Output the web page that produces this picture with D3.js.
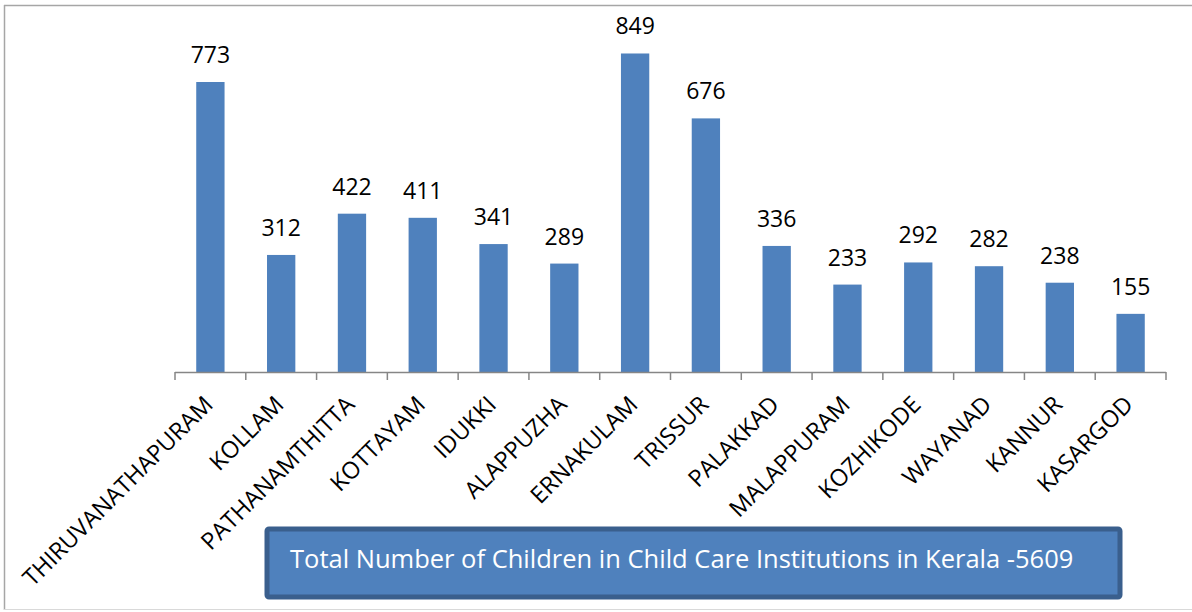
<!DOCTYPE html>
<html>
<head>
<meta charset="utf-8">
<script src="https://cdn.jsdelivr.net/npm/d3@7"></script>
<style>
  html, body { margin: 0; padding: 0; background: #fff; }
  svg { display: block; font-family: "Open Sans", "Noto Sans", sans-serif; }
</style>
</head>
<body>
<svg id="chart" width="1192" height="612"></svg>
<script>
const districts = ["THIRUVANATHAPURAM","KOLLAM","PATHANAMTHITTA","KOTTAYAM","IDUKKI","ALAPPUZHA","ERNAKULAM","TRISSUR","PALAKKAD","MALAPPURAM","KOZHIKODE","WAYANAD","KANNUR","KASARGOD"];
const children = [773,312,422,411,341,289,849,676,336,233,292,282,238,155];
const boxTitle = "Total Number of Children in Child Care Institutions in Kerala -5609";

const svg = d3.select("#chart");
const W = 1192, H = 612;

// outer frame
svg.append("line").attr("x1",4.5).attr("y1",5).attr("x2",4.5).attr("y2",610).attr("stroke","#a6a6a6").attr("stroke-width",1.5);
svg.append("line").attr("x1",4).attr("y1",5.5).attr("x2",W).attr("y2",5.5).attr("stroke","#a6a6a6").attr("stroke-width",1.5);
svg.append("line").attr("x1",4).attr("y1",609.5).attr("x2",W).attr("y2",609.5).attr("stroke","#d9d9d9").attr("stroke-width",1);

const x0 = 175, x1 = 1166, yBase = 372;
const x = d3.scaleBand().domain(districts).range([x0, x1]).paddingInner(0.6).paddingOuter(0.3);
const y = d3.scaleLinear().domain([0, 773]).range([yBase, 82]);

// bars
svg.append("g").selectAll("rect").data(districts).join("rect")
  .attr("x", d => x(d))
  .attr("y", (d,i) => y(children[i]))
  .attr("width", x.bandwidth())
  .attr("height", (d,i) => yBase - y(children[i]))
  .attr("fill", "#4f81bd");

// value labels
svg.append("g").selectAll("text").data(districts).join("text")
  .attr("x", d => x(d) + x.bandwidth()/2)
  .attr("y", (d,i) => y(children[i]) - 19)
  .attr("text-anchor", "middle")
  .attr("font-size", 23)
  .attr("fill", "#000")
  .text((d,i) => children[i]);

// axis
const tickPos = d3.range(districts.length + 1).map(i => x0 + i * (x1 - x0) / districts.length);
const axis = svg.append("g");
axis.append("line").attr("x1", x0).attr("x2", x1).attr("y1", yBase + 0.5).attr("y2", yBase + 0.5)
  .attr("stroke", "#868686").attr("stroke-width", 1.5);
axis.selectAll("line.tick").data(tickPos).join("line").attr("class","tick")
  .attr("x1", d => d).attr("x2", d => d).attr("y1", yBase).attr("y2", yBase + 8)
  .attr("stroke", "#868686").attr("stroke-width", 1.5);

// category labels
svg.append("g").selectAll("text").data(districts).join("text")
  .attr("transform", d => `translate(${x(d) + x.bandwidth()/2 + 4},${yBase + 34}) rotate(-45)`)
  .attr("text-anchor", "end")
  .attr("font-size", 23.5)
  .attr("fill", "#000")
  .text(d => d);

// title box
const bx = 267, by = 529, bw = 853, bh = 68;
svg.append("rect").attr("x", bx).attr("y", by).attr("width", bw).attr("height", bh)
  .attr("rx", 2).attr("fill", "#4f81bd").attr("stroke", "#3a5f8d").attr("stroke-width", 5);
svg.append("text").attr("x", 290).attr("y", 568)
  .attr("font-size", 25.5).attr("fill", "#fff").text(boxTitle);
</script>
</body>
</html>
